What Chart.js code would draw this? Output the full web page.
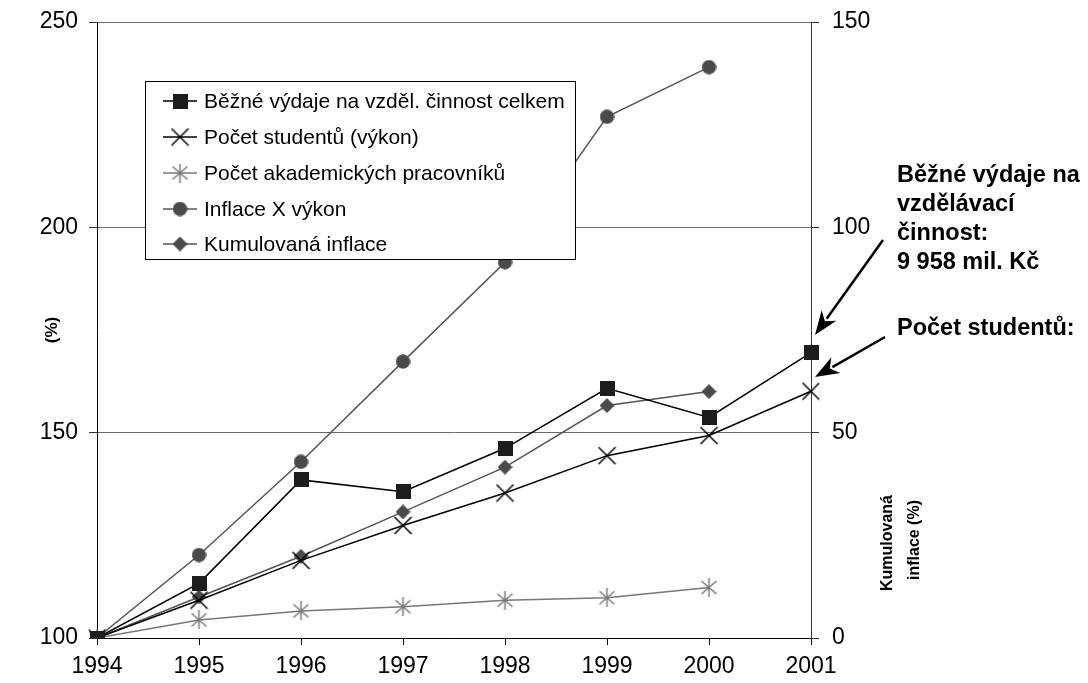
<!DOCTYPE html>
<html>
<head>
<meta charset="utf-8">
<script src="https://cdn.jsdelivr.net/npm/chart.js@4/dist/chart.umd.min.js"></script>
<style>
	body { margin: 0; background: #fff; }
</style>
</head>
<body>
<canvas id="chart" width="1088" height="683"></canvas>
<script>
const years = ['1994', '1995', '1996', '1997', '1998', '1999', '2000', '2001'];

// left axis (%), 1994 = 100
const bezneVydaje = [100, 113.3, 138.5, 135.6, 146.2, 160.8, 153.7, 169.5];
const pocetStudentu = [100, 109.2, 118.9, 127.4, 135.3, 144.4, 149.3, 160.1];
const pocetAkademickych = [100, 104.4, 106.6, 107.6, 109.2, 109.8, 112.3, null];
const inflaceVykon = [100, 120.2, 142.9, 167.3, 191.5, 226.9, 239, null];
// right axis, cumulative inflation (%)
const kumulovanaInflace = [0, 10, 19.9, 30.7, 41.6, 56.6, 60, null];

const leftTicks = [100, 150, 200, 250];
const rightTicks = [0, 50, 100, 150];

const FONT = '"Liberation Sans", Arial, sans-serif';

function marker(w, h, draw) {
	const c = document.createElement('canvas');
	c.width = w;
	c.height = h;
	draw(c.getContext('2d'), w, h);
	return c;
}

const squareMark = marker(15, 15, function(g, w, h) {
	g.fillStyle = '#1c1c1c';
	g.fillRect(0, 0, w, h);
});
const crossMark = marker(19, 19, function(g, w, h) {
	g.strokeStyle = '#000';
	g.lineWidth = 1.5;
	g.beginPath();
	g.moveTo(1, 1); g.lineTo(w - 1, h - 1);
	g.moveTo(w - 1, 1); g.lineTo(1, h - 1);
	g.stroke();
});
const starMark = marker(19, 19, function(g, w, h) {
	g.strokeStyle = '#777';
	g.lineWidth = 1.5;
	g.beginPath();
	g.moveTo(w / 2, 0); g.lineTo(w / 2, h);
	g.moveTo(2, 3); g.lineTo(w - 2, h - 3);
	g.moveTo(w - 2, 3); g.lineTo(2, h - 3);
	g.stroke();
});
const circleMark = marker(15, 15, function(g, w, h) {
	g.fillStyle = '#4a4a4a';
	g.beginPath();
	g.arc(w / 2, h / 2, 7.2, 0, Math.PI * 2);
	g.fill();
});
const diamondMark = marker(15, 15, function(g, w, h) {
	g.fillStyle = '#4a4a4a';
	g.beginPath();
	g.moveTo(w / 2, 0); g.lineTo(w, h / 2); g.lineTo(w / 2, h); g.lineTo(0, h / 2);
	g.closePath();
	g.fill();
});

function series(label, data, color, mark, axis) {
	return {
		label: label,
		data: data,
		yAxisID: axis,
		borderColor: color,
		borderWidth: 1.5,
		pointStyle: mark,
		pointRadius: 7,
		tension: 0,
		spanGaps: false,
	};
}

const overlay = {
	id: 'overlay',
	afterDraw(chart) {
		const ctx = chart.ctx;
		ctx.save();

		// axis titles
		ctx.fillStyle = '#000';
		ctx.font = 'bold 17px ' + FONT;
		ctx.textAlign = 'center';
		ctx.textBaseline = 'middle';
		const vtext = function(t, x, y) {
			ctx.save();
			ctx.translate(x, y);
			ctx.rotate(-Math.PI / 2);
			ctx.fillText(t, 0, 0);
			ctx.restore();
		};
		vtext('(%)', 52, 330);
		ctx.font = 'bold 16px ' + FONT;
		vtext('Kumulovaná', 888, 543);
		vtext('inflace (%)', 915, 540);

		// legend box
		ctx.fillStyle = '#fff';
		ctx.fillRect(145.5, 81.5, 430, 178);
		ctx.strokeStyle = '#000';
		ctx.lineWidth = 1;
		ctx.strokeRect(145.5, 81.5, 430, 178);
		const rows = [101, 137, 173, 209, 244];
		ctx.font = '21px ' + FONT;
		ctx.textAlign = 'left';
		chart.data.datasets.forEach(function(ds, i) {
			const y = rows[i];
			ctx.strokeStyle = ds.borderColor;
			ctx.lineWidth = ds.borderWidth;
			ctx.beginPath();
			ctx.moveTo(163, y);
			ctx.lineTo(197, y);
			ctx.stroke();
			const m = ds.pointStyle;
			ctx.drawImage(m, 180 - m.width / 2, y - m.height / 2);
			ctx.fillStyle = '#000';
			ctx.fillText(ds.label, 204, y + 1);
		});

		// annotations
		ctx.font = 'bold 23.5px ' + FONT;
		ctx.textBaseline = 'alphabetic';
		ctx.fillStyle = '#000';
		ctx.fillText('Běžné výdaje na', 897, 182);
		ctx.fillText('vzdělávací', 897, 211);
		ctx.fillText('činnost:', 897, 240);
		ctx.fillText('9 958 mil. Kč', 897, 269);
		ctx.fillText('Počet studentů:', 897, 335);

		const arrow = function(x1, y1, x2, y2) {
			const a = Math.atan2(y2 - y1, x2 - x1);
			const len = 24, half = 9;
			const bx = x2 - Math.cos(a) * len, by = y2 - Math.sin(a) * len;
			ctx.strokeStyle = '#000';
			ctx.lineWidth = 2.5;
			ctx.beginPath();
			ctx.moveTo(x1, y1);
			ctx.lineTo(bx + Math.cos(a) * 4, by + Math.sin(a) * 4);
			ctx.stroke();
			ctx.fillStyle = '#000';
			ctx.beginPath();
			ctx.moveTo(x2, y2);
			ctx.lineTo(bx - Math.sin(a) * half, by + Math.cos(a) * half);
			ctx.lineTo(bx + Math.cos(a) * 7, by + Math.sin(a) * 7);
			ctx.lineTo(bx + Math.sin(a) * half, by - Math.cos(a) * half);
			ctx.closePath();
			ctx.fill();
		};
		arrow(883, 240, 815, 335);
		arrow(885, 337, 815, 377);

		ctx.restore();
	}
};

const ctx = document.getElementById('chart').getContext('2d');
const chart = new Chart(ctx, {
	type: 'line',
	data: {
		labels: years,
		datasets: [
			series('Běžné výdaje na vzděl. činnost celkem', bezneVydaje, '#000', squareMark, 'y'),
			series('Počet studentů (výkon)', pocetStudentu, '#000', crossMark, 'y'),
			series('Počet akademických pracovníků', pocetAkademickych, '#777', starMark, 'y'),
			series('Inflace X výkon', inflaceVykon, '#555', circleMark, 'y'),
			series('Kumulovaná inflace', kumulovanaInflace, '#555', diamondMark, 'y1'),
		],
	},
	options: {
		responsive: false,
		animation: false,
		devicePixelRatio: 1,
		layout: { padding: { top: 22, left: 0, right: 0, bottom: 0 } },
		plugins: {
			legend: { display: false },
			tooltip: { enabled: false },
		},
		scales: {
			x: {
				offset: false,
				grid: { drawOnChartArea: false, tickLength: 7, tickColor: '#000' },
				border: { color: '#000', width: 1 },
				ticks: { color: '#000', font: { family: FONT, size: 23 }, padding: 8, maxRotation: 0 },
				afterFit: function(s) { s.height = 45; },
			},
			y: {
				position: 'left',
				min: 100, max: 250,
				afterBuildTicks: function(s) { s.ticks = leftTicks.map(v => ({ value: v })); },
				grid: { color: '#6a6a6a', tickLength: 8, tickColor: '#333' },
				border: { color: '#000', width: 1 },
				ticks: { color: '#000', font: { family: FONT, size: 23, lineHeight: 0.6 }, padding: 11 },
				afterFit: function(s) { s.width = 97; },
			},
			y1: {
				position: 'right',
				min: 0, max: 150,
				afterBuildTicks: function(s) { s.ticks = rightTicks.map(v => ({ value: v })); },
				grid: { drawOnChartArea: false, tickLength: 8, tickColor: '#333' },
				border: { color: '#333', width: 1 },
				ticks: { color: '#000', font: { family: FONT, size: 23, lineHeight: 0.6 }, padding: 13 },
				afterFit: function(s) { s.width = 277; },
			},
		},
	},
	plugins: [overlay],
});
</script>
</body>
</html>
